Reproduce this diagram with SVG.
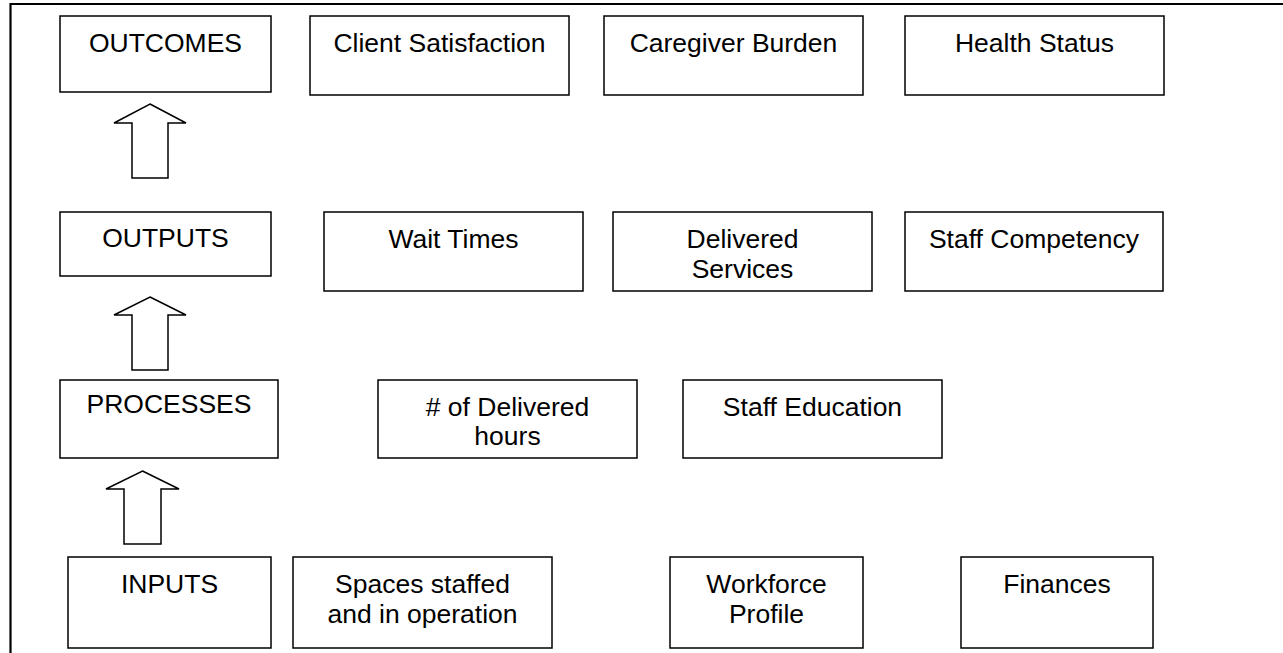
<svg xmlns="http://www.w3.org/2000/svg" width="1283" height="653" viewBox="0 0 1283 653">
  <style>
    .box { fill: #ffffff; stroke: #000000; stroke-width: 1.5; }
    .frame { fill: none; stroke: #000000; stroke-width: 2.2; }
    .arrow { fill: #ffffff; stroke: #000000; stroke-width: 1.5; stroke-linejoin: miter; }
    text { font-family: "Liberation Sans", Arial, sans-serif; font-size: 26.5px; fill: #000000; text-anchor: middle; }
  </style>
  <rect width="1283" height="653" fill="#ffffff"/>

  <!-- outer frame (top and left edges) -->
  <path class="frame" d="M10.5,653 V4 H1283"/>

  <!-- OUTCOMES row -->
  <g id="outcomes">
    <rect class="box" x="60" y="16" width="211" height="76"/>
    <text x="165.5" y="52">OUTCOMES</text>
  </g>
  <g id="client-satisfaction">
    <rect class="box" x="310" y="16" width="259" height="79"/>
    <text x="439.5" y="52">Client Satisfaction</text>
  </g>
  <g id="caregiver-burden">
    <rect class="box" x="604" y="16" width="259" height="79"/>
    <text x="733.5" y="52">Caregiver Burden</text>
  </g>
  <g id="health-status">
    <rect class="box" x="905" y="16" width="259" height="79"/>
    <text x="1034.5" y="52">Health Status</text>
  </g>

  <!-- OUTPUTS row -->
  <g id="outputs">
    <rect class="box" x="60" y="212" width="211" height="64"/>
    <text x="165.5" y="247">OUTPUTS</text>
  </g>
  <g id="wait-times">
    <rect class="box" x="324" y="212" width="259" height="79"/>
    <text x="453.5" y="248">Wait Times</text>
  </g>
  <g id="delivered-services">
    <rect class="box" x="613" y="212" width="259" height="79"/>
    <text x="742.5" y="248">Delivered</text>
    <text x="742.5" y="278">Services</text>
  </g>
  <g id="staff-competency">
    <rect class="box" x="905" y="212" width="258" height="79"/>
    <text x="1034" y="248">Staff Competency</text>
  </g>

  <!-- PROCESSES row -->
  <g id="processes">
    <rect class="box" x="60" y="380" width="218" height="78"/>
    <text x="169" y="413">PROCESSES</text>
  </g>
  <g id="delivered-hours">
    <rect class="box" x="378" y="380" width="259" height="78"/>
    <text x="507.5" y="416"># of Delivered</text>
    <text x="507.5" y="445">hours</text>
  </g>
  <g id="staff-education">
    <rect class="box" x="683" y="380" width="259" height="78"/>
    <text x="812.5" y="416">Staff Education</text>
  </g>

  <!-- INPUTS row -->
  <g id="inputs">
    <rect class="box" x="68" y="557" width="203" height="91"/>
    <text x="169.5" y="593">INPUTS</text>
  </g>
  <g id="spaces-staffed">
    <rect class="box" x="293" y="557" width="259" height="91"/>
    <text x="422.5" y="593">Spaces staffed</text>
    <text x="422.5" y="623">and in operation</text>
  </g>
  <g id="workforce-profile">
    <rect class="box" x="670" y="557" width="193" height="91"/>
    <text x="766.5" y="593">Workforce</text>
    <text x="766.5" y="623">Profile</text>
  </g>
  <g id="finances">
    <rect class="box" x="961" y="557" width="192" height="91"/>
    <text x="1057" y="593">Finances</text>
  </g>

  <!-- block arrows between levels -->
  <g id="connectors">
    <path class="arrow" d="M150,104 L186,123 L168,123 L168,178 L132,178 L132,123 L114,123 Z"/>
    <path class="arrow" d="M150,297 L186,315 L168,315 L168,370 L132,370 L132,315 L114,315 Z"/>
    <path class="arrow" d="M142.5,471 L179,489 L161,489 L161,544 L124,544 L124,489 L106,489 Z"/>
  </g>
</svg>
